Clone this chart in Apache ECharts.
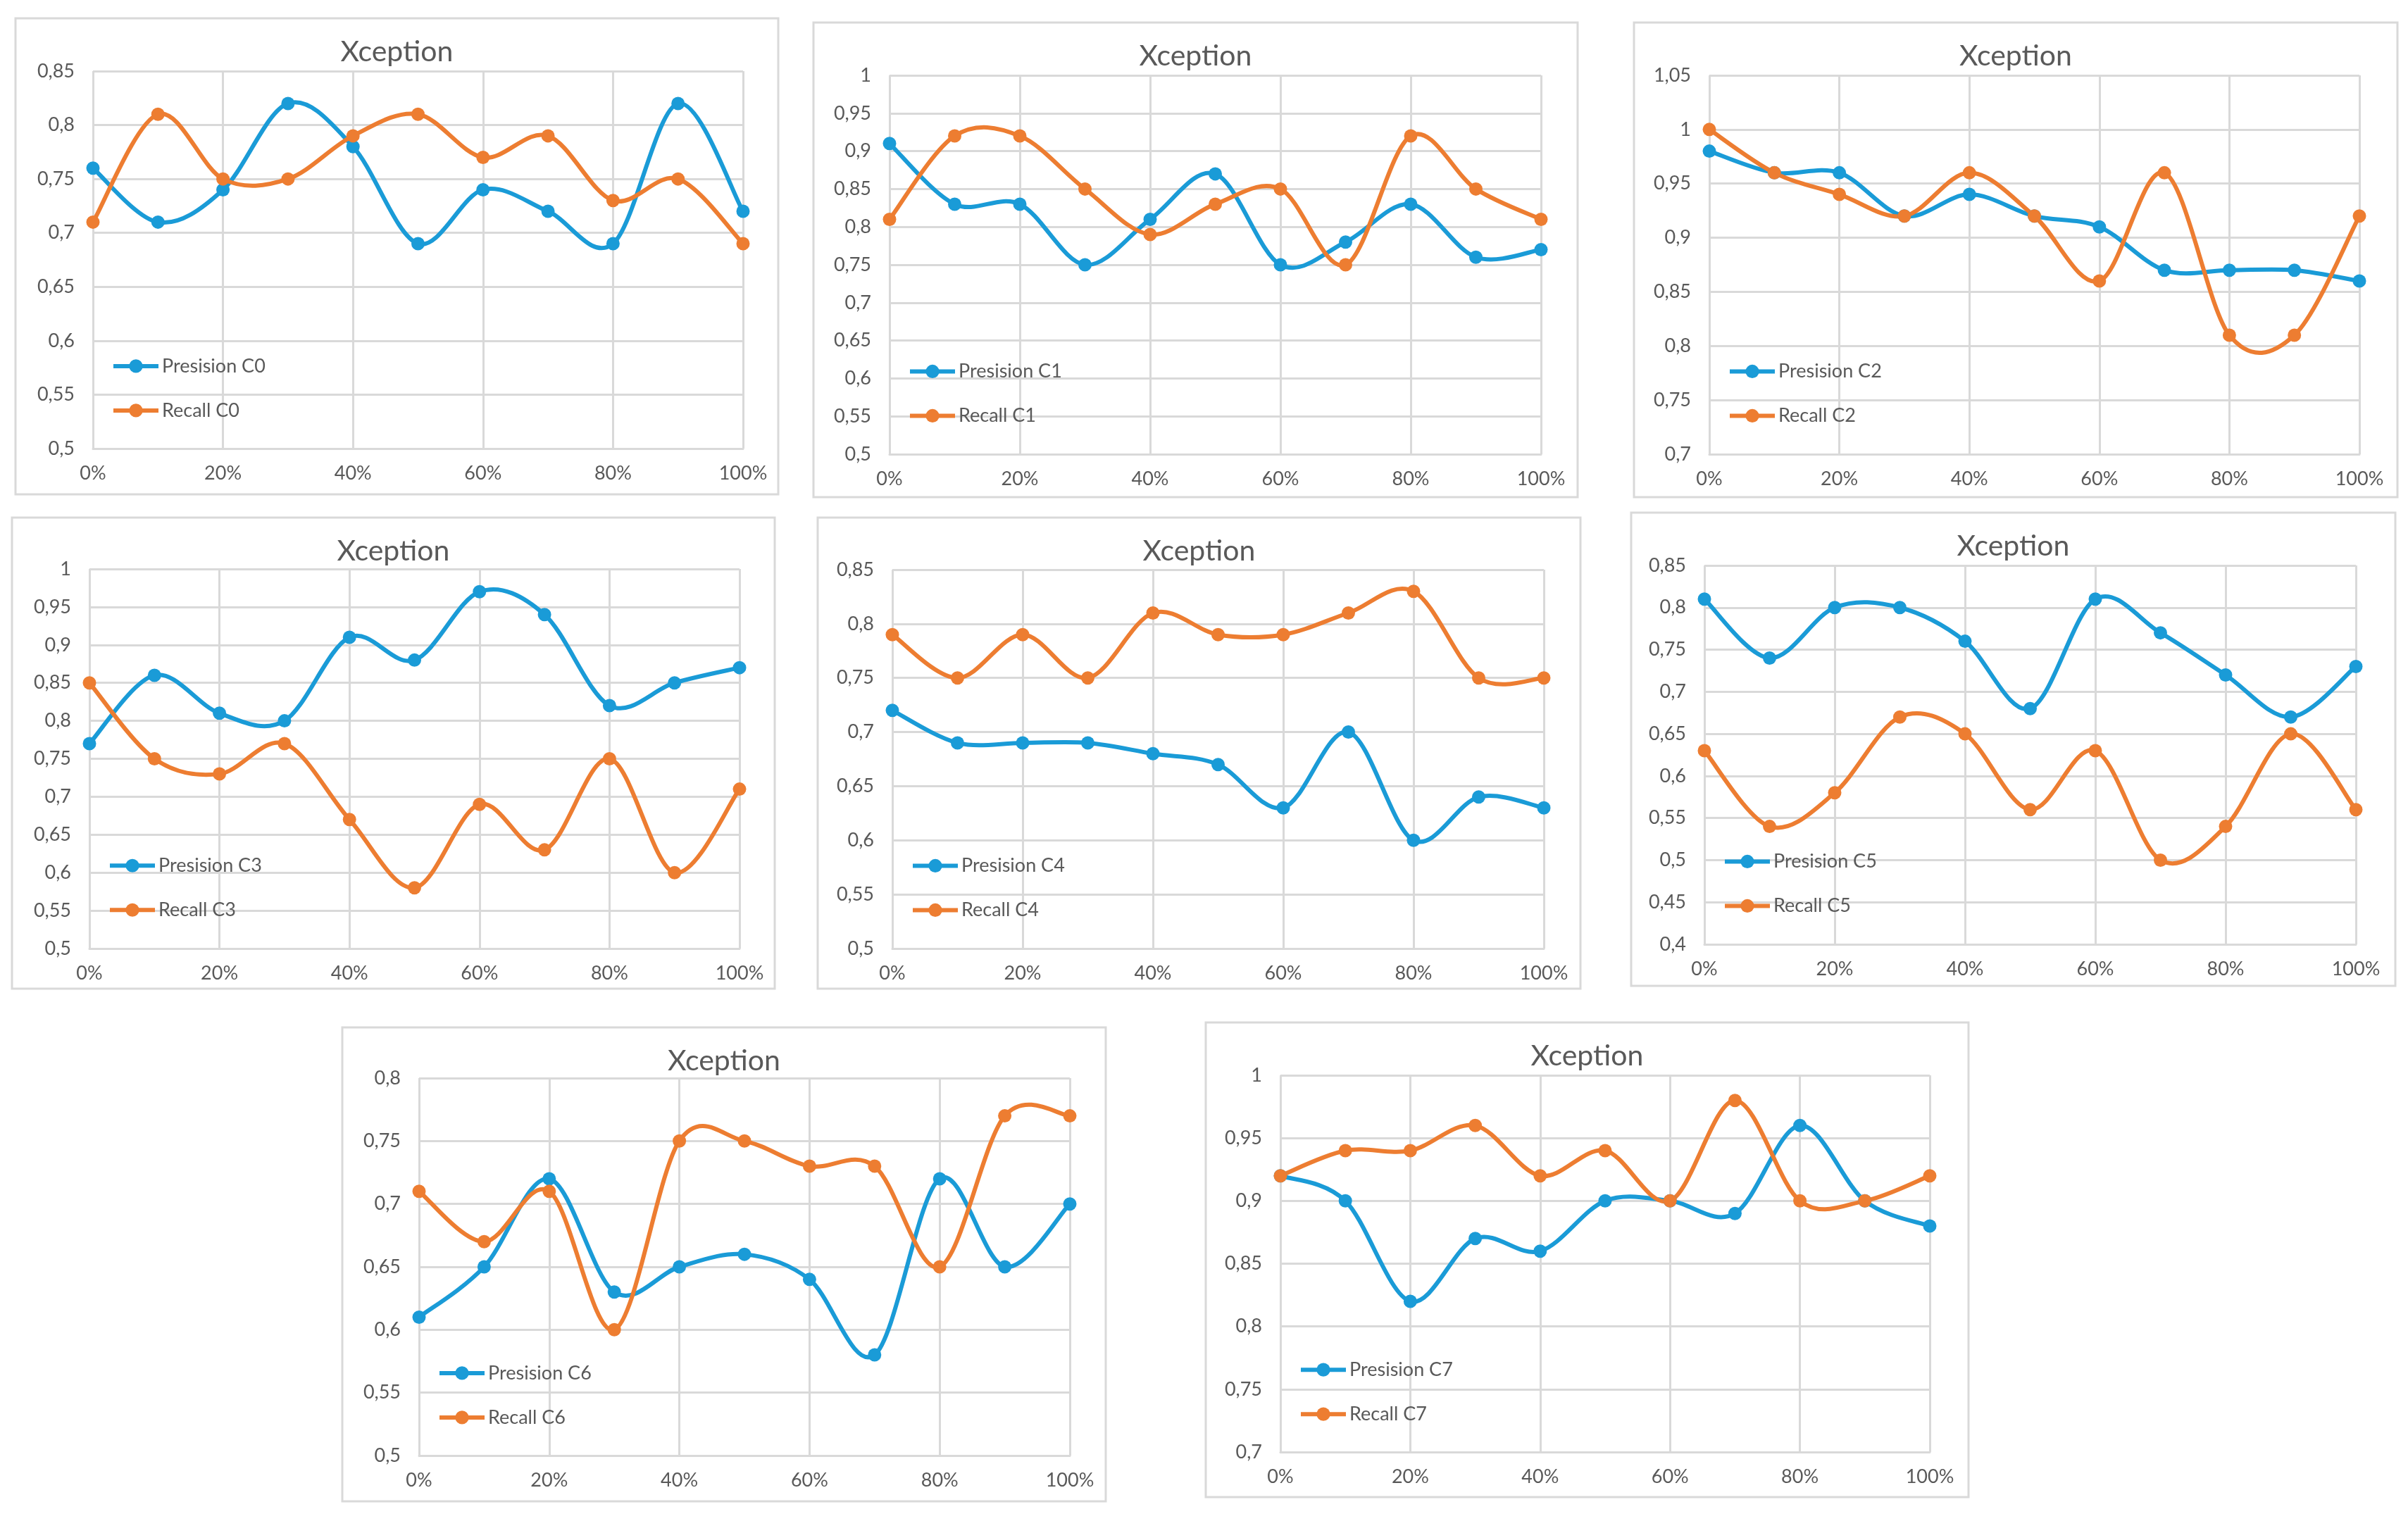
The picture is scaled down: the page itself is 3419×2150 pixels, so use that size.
<!DOCTYPE html>
<html>
<head>
<meta charset="utf-8">
<script src="https://cdn.jsdelivr.net/npm/echarts@6/dist/echarts.min.js"></script>
<style>
html,body{margin:0;padding:0;background:#fff;}
#chart{width:3419px;height:2150px;}
</style>
</head>
<body>
<div id="chart"></div>
<script>
// ---------- DATA ----------
const categories = ['0%','10%','20%','30%','40%','50%','60%','70%','80%','90%','100%'];

const precisionC0 = [0.76,0.71,0.74,0.82,0.78,0.69,0.74,0.72,0.69,0.82,0.72];
const recallC0    = [0.71,0.81,0.75,0.75,0.79,0.81,0.77,0.79,0.73,0.75,0.69];

const precisionC1 = [0.91,0.83,0.83,0.75,0.81,0.87,0.75,0.78,0.83,0.76,0.77];
const recallC1    = [0.81,0.92,0.92,0.85,0.79,0.83,0.85,0.75,0.92,0.85,0.81];

const precisionC2 = [0.98,0.96,0.96,0.92,0.94,0.92,0.91,0.87,0.87,0.87,0.86];
const recallC2    = [1.00,0.96,0.94,0.92,0.96,0.92,0.86,0.96,0.81,0.81,0.92];

const precisionC3 = [0.77,0.86,0.81,0.80,0.91,0.88,0.97,0.94,0.82,0.85,0.87];
const recallC3    = [0.85,0.75,0.73,0.77,0.67,0.58,0.69,0.63,0.75,0.60,0.71];

const precisionC4 = [0.72,0.69,0.69,0.69,0.68,0.67,0.63,0.70,0.60,0.64,0.63];
const recallC4    = [0.79,0.75,0.79,0.75,0.81,0.79,0.79,0.81,0.83,0.75,0.75];

const precisionC5 = [0.81,0.74,0.80,0.80,0.76,0.68,0.81,0.77,0.72,0.67,0.73];
const recallC5    = [0.63,0.54,0.58,0.67,0.65,0.56,0.63,0.50,0.54,0.65,0.56];

const precisionC6 = [0.61,0.65,0.72,0.63,0.65,0.66,0.64,0.58,0.72,0.65,0.70];
const recallC6    = [0.71,0.67,0.71,0.60,0.75,0.75,0.73,0.73,0.65,0.77,0.77];

const precisionC7 = [0.92,0.90,0.82,0.87,0.86,0.90,0.90,0.89,0.96,0.90,0.88];
const recallC7    = [0.92,0.94,0.94,0.96,0.92,0.94,0.90,0.98,0.90,0.90,0.92];

const classNames = ['C0','C1','C2','C3','C4','C5','C6','C7'];
const precisionSets = [precisionC0,precisionC1,precisionC2,precisionC3,precisionC4,precisionC5,precisionC6,precisionC7];
const recallSets    = [recallC0,recallC1,recallC2,recallC3,recallC4,recallC5,recallC6,recallC7];

// y-axis ranges (tick labels from min to max in steps of 0.05)
const yMins = [0.5,0.5,0.7,0.5,0.5,0.4,0.5,0.7];
const yMaxs = [0.85,1.0,1.05,1.0,0.85,0.85,0.8,1.0];
const yStep = 0.05;
const chartTitle = 'Xception';

// ---------- LAYOUT (pixels) ----------
const boxes = [ // [x1,y1,x2,y2] chart-area frames
  [22,26,1105,702],[1155,32,2240,706],[2320,32,3404,706],
  [17,735,1100,1404],[1161,735,2244,1404],[2316,728,3401,1400],
  [486,1459,1570,2132],[1712,1452,2795,2126]
];
const plots = [ // [left,top,right,bottom] plot areas
  [132,101,1055,637],[1263,107,2188,645],[2427,107,3350,645],
  [127,808,1050,1347],[1267,809,2192,1347],[2420,803,3345,1341],
  [595,1531,1519,2067],[1818,1527,2740,2062]
];

const FONT = 'Lato, "Open Sans", sans-serif';
const TEXT = '#595959';
const GRID = '#d9d9d9';
const BLUE = '#1a9bd7';
const ORANGE = '#ed7d31';
const LW = 6;

const fmt = v => String(Math.round(v*100)/100).replace('.', ',');

// Excel-like smoothed curve (Catmull-Rom Bezier) drawn through the axis scales via api.coord
function curveSeries(values, color, i) {
  return {
    type:'custom', name:'_curve', xAxisIndex:i, yAxisIndex:i, silent:true, z:1,
    data: values.map((v,k)=>[k,v]),
    encode:{x:0, y:1},
    renderItem:(params, api)=>{
      const k = params.dataIndex;
      if (k >= values.length - 1) return null;
      const P = j => api.coord([Math.max(0, Math.min(values.length-1, j)), values[Math.max(0, Math.min(values.length-1, j))]]);
      const p0 = P(k-1), p1 = P(k), p2 = P(k+1), p3 = P(k+2);
      const c1 = [p1[0] + (p2[0]-p0[0])/6, p1[1] + (p2[1]-p0[1])/6];
      const c2 = [p2[0] - (p3[0]-p1[0])/6, p2[1] - (p3[1]-p1[1])/6];
      return {
        type:'bezierCurve',
        shape:{x1:p1[0], y1:p1[1], cpx1:c1[0], cpy1:c1[1], cpx2:c2[0], cpy2:c2[1], x2:p2[0], y2:p2[1]},
        style:{fill:null, stroke:color, lineWidth:LW, lineCap:'round'}
      };
    }
  };
}

const grids=[], xAxes=[], yAxes=[], series=[], legends=[], graphics=[];
classNames.forEach((c,i)=>{
  const [L,T,R,B] = plots[i];
  const [bx1,by1,bx2,by2] = boxes[i];
  const H = B-T;
  grids.push({left:L, top:T, width:R-L, height:H, outerBoundsMode:'none'});
  xAxes.push({
    gridIndex:i, type:'category', data:categories, boundaryGap:false,
    axisLine:{show:true, lineStyle:{color:GRID, width:3}},
    axisTick:{show:false},
    axisLabel:{interval:1, fontSize:27, color:TEXT, fontFamily:FONT, margin:22},
    splitLine:{show:true, interval:1, lineStyle:{color:GRID, width:3}}
  });
  yAxes.push({
    gridIndex:i, type:'value', min:yMins[i], max:yMaxs[i], interval:yStep,
    axisLine:{show:false}, axisTick:{show:false},
    axisLabel:{fontSize:27, color:TEXT, fontFamily:FONT, margin:26, formatter:fmt},
    splitLine:{show:true, lineStyle:{color:GRID, width:3}}
  });
  const pn = 'Presision ' + c, rn = 'Recall ' + c;
  series.push(curveSeries(precisionSets[i], BLUE, i));
  series.push(curveSeries(recallSets[i], ORANGE, i));
  series.push({
    name:pn, type:'line', xAxisIndex:i, yAxisIndex:i, data:precisionSets[i], z:3,
    symbol:'circle', symbolSize:19,
    lineStyle:{color:BLUE, width:LW, opacity:0}, itemStyle:{color:BLUE}
  });
  series.push({
    name:rn, type:'line', xAxisIndex:i, yAxisIndex:i, data:recallSets[i], z:4,
    symbol:'circle', symbolSize:19,
    lineStyle:{color:ORANGE, width:LW, opacity:0}, itemStyle:{color:ORANGE}
  });
  legends.push({
    data:[pn, rn], orient:'vertical', left:L+21, top:T+0.775*H-15,
    itemWidth:64, itemHeight:24, itemGap:36,
    lineStyle:{width:LW, opacity:1},
    textStyle:{fontSize:27, color:TEXT, fontFamily:FONT},
    selectedMode:false
  });
  graphics.push({
    type:'rect', shape:{x:bx1, y:by1, width:bx2-bx1, height:by2-by1},
    style:{fill:null, stroke:GRID, lineWidth:3}, z:-1
  });
  graphics.push({
    type:'text', x:(bx1+bx2)/2, y:by1+48,
    style:{text:chartTitle, fill:TEXT, font:'41px ' + FONT, align:'center', verticalAlign:'middle'}
  });
});

const chart = echarts.init(document.getElementById('chart'));
chart.setOption({
  animation:false,
  backgroundColor:'#fff',
  grid:grids, xAxis:xAxes, yAxis:yAxes, series:series, legend:legends,
  graphic:graphics
});
</script>
</body>
</html>
